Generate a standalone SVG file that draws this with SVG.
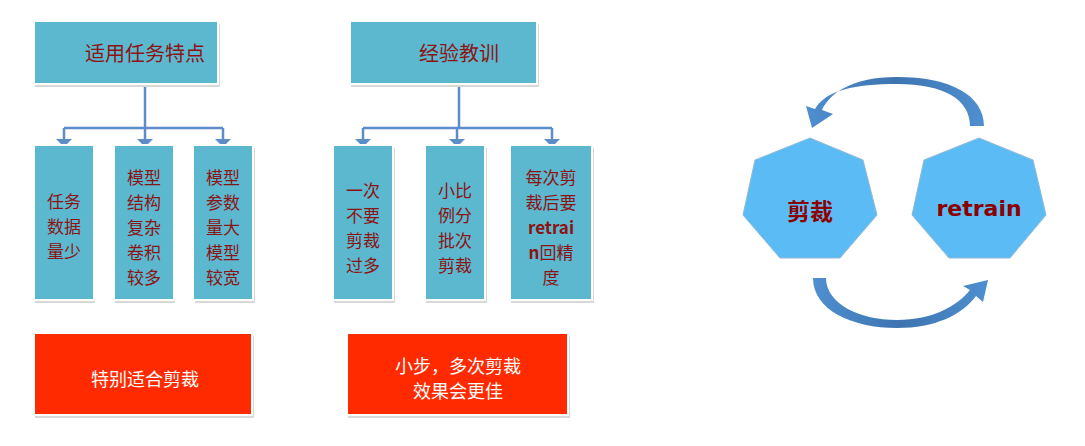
<svg xmlns="http://www.w3.org/2000/svg" width="1085" height="446" viewBox="0 0 1085 446">
<style>
.b{fill:#5BB8CF;stroke:#fff;stroke-width:2}
.s{fill:#d8d8d8}
.r{fill:#FF2A00;stroke:#fff;stroke-width:2}
.t{font-family:"Noto Sans CJK SC",sans-serif;font-size:17px;fill:#8B1414;text-anchor:middle;dominant-baseline:central}
.tt{font-size:20px}
.w{font-family:"Noto Sans CJK SC",sans-serif;font-size:18px;fill:#fff;text-anchor:middle;dominant-baseline:central}
.h{fill:#5BBCF5;stroke:#8fb8d8;stroke-width:1}
.ht{font-family:"Noto Sans CJK SC",sans-serif;font-size:23px;font-weight:bold;fill:#8B0000;text-anchor:middle;dominant-baseline:central}
.c{fill:none;stroke:#5B8DC8;stroke-width:2.5}
.ar{fill:url(#g)}
</style>
<defs><linearGradient id="g" x1="0" y1="0" x2="1" y2="0"><stop offset="0" stop-color="#4F8FD0"/><stop offset="0.5" stop-color="#3D74B0"/><stop offset="1" stop-color="#4F8FD0"/></linearGradient></defs>
<rect width="1085" height="446" fill="#fff"/>
<g id="connectors">
<path class="c" d="M145,84 V128 M64,128 H223 M64,128 V146 M145,128 V146 M223,128 V146"/>
<path class="c" d="M459,84 V128 M363,128 H552 M363,128 V146 M457,128 V146 M552,128 V146"/>
<path d="M56,139 L72,139 L64,147 Z M137,139 L153,139 L145,147 Z M215,139 L231,139 L223,147 Z M355,139 L371,139 L363,147 Z M449,139 L465,139 L457,147 Z M544,139 L560,139 L552,147 Z" fill="#5B8DC8"/>
<path class="ar" d="M984,126 C984,95 950,77 897,77 C852,77 830,93 822,110 L833,114 L812,128 L806,106 L815,109 C826,90 855,84 897,84 C945,84 970,100 970,126 Z"/>
<path class="ar" d="M813,278 L826,278 C826,303 858,320 897,320 C933,320 957,306 970,290 L963,286 L988,280 L983,302 L976,296 C962,315 935,328 897,328 C852,328 813,310 813,278 Z"/>
</g>
<g id="top1"><rect class="s" x="35" y="24" width="185" height="63"/><rect class="b" x="34" y="21" width="184" height="63"/><text class="t tt" x="145" y="52">适用任务特点</text></g>
<g id="top2"><rect class="s" x="351" y="24" width="188" height="63"/><rect class="b" x="350" y="21" width="187" height="63"/><text class="t tt" x="459" y="52">经验教训</text></g>
<g id="c1"><rect class="s" x="35" y="148" width="60" height="155"/><rect class="b" x="34" y="145" width="60" height="155"/><text class="t"><tspan x="64" y="200">任务</tspan><tspan x="64" y="225">数据</tspan><tspan x="64" y="250">量少</tspan></text></g>
<g id="c2"><rect class="s" x="115" y="148" width="60" height="155"/><rect class="b" x="114" y="145" width="60" height="155"/><text class="t"><tspan x="144" y="176">模型</tspan><tspan x="144" y="201">结构</tspan><tspan x="144" y="226">复杂</tspan><tspan x="144" y="251">卷积</tspan><tspan x="144" y="276">较多</tspan></text></g>
<g id="c3"><rect class="s" x="195" y="148" width="60" height="155"/><rect class="b" x="193" y="145" width="60" height="155"/><text class="t"><tspan x="223" y="176">模型</tspan><tspan x="223" y="201">参数</tspan><tspan x="223" y="226">量大</tspan><tspan x="223" y="251">模型</tspan><tspan x="223" y="276">较宽</tspan></text></g>
<g id="c4"><rect class="s" x="334" y="148" width="61" height="155"/><rect class="b" x="333" y="145" width="60" height="155"/><text class="t"><tspan x="363" y="189">一次</tspan><tspan x="363" y="214">不要</tspan><tspan x="363" y="239">剪裁</tspan><tspan x="363" y="264">过多</tspan></text></g>
<g id="c5"><rect class="s" x="426" y="148" width="61" height="155"/><rect class="b" x="425" y="145" width="60" height="155"/><text class="t"><tspan x="455" y="189">小比</tspan><tspan x="455" y="214">例分</tspan><tspan x="455" y="239">批次</tspan><tspan x="455" y="264">剪裁</tspan></text></g>
<g id="c6"><rect class="s" x="511" y="148" width="83" height="155"/><rect class="b" x="510" y="145" width="82" height="155"/><text class="t" style="font-weight:bold"><tspan x="551" y="176" style="font-weight:normal">每次剪</tspan><tspan x="551" y="201" style="font-weight:normal">裁后要</tspan><tspan x="551" y="226">retrai</tspan><tspan x="551" y="251">n<tspan style="font-weight:normal">回精</tspan></tspan><tspan x="551" y="276" style="font-weight:normal">度</tspan></text></g>
<g id="red1"><rect class="s" x="35" y="336" width="219" height="82"/><rect class="r" x="34" y="333" width="218" height="82"/><text class="w" x="145" y="378">特别适合剪裁</text></g>
<g id="red2"><rect class="s" x="348" y="336" width="222" height="82"/><rect class="r" x="347" y="333" width="221" height="82"/><text class="w"><tspan x="458" y="365">小步，多次剪裁</tspan><tspan x="458" y="390">效果会更佳</tspan></text></g>
<g id="hep1"><polygon class="h" points="810,138 863,160 877,215 840,258 780,258 743,215 755,160"/><text class="ht" x="810" y="210">剪裁</text></g>
<g id="hep2"><polygon class="h" points="979,138 1033,160 1046,215 1010,258 949,258 912,215 924,160"/><text class="ht" x="979" y="208" style="font-family:'DejaVu Sans',sans-serif;font-size:22px">retrain</text></g>
</svg>
